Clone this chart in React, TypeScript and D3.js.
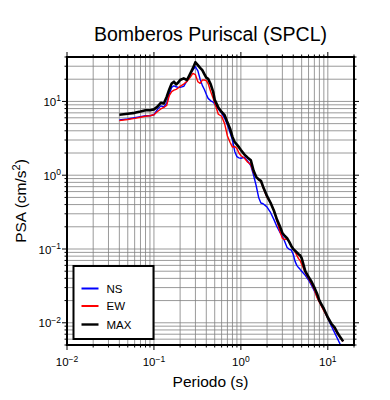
import React from 'react';
import * as d3 from 'd3';

const width = 390;
const height = 400;
const plot = { left: 67, right: 354, top: 57, bottom: 345 };

// period (s) shared by the three spectra
const periods = [
  0.04, 0.05, 0.06, 0.07, 0.08, 0.09, 0.1, 0.11, 0.12, 0.13, 0.14, 0.15, 0.16, 0.17, 0.18, 0.19,
  0.2, 0.22, 0.24, 0.26, 0.28, 0.3, 0.32, 0.34, 0.36, 0.38, 0.4, 0.42, 0.45, 0.48, 0.5, 0.55,
  0.6, 0.65, 0.7, 0.75, 0.8, 0.85, 0.9, 0.95, 1.0, 1.1, 1.2, 1.3, 1.4, 1.5, 1.6, 1.7, 1.8, 1.9,
  2.0, 2.2, 2.4, 2.6, 2.8, 3.0, 3.2, 3.4, 3.6, 3.8, 4.0, 4.2, 4.4, 4.6, 4.8, 5.0, 5.5, 6.0,
  6.5, 7.0, 7.5, 8.0, 8.5, 9.0, 9.5, 10, 11, 12, 13, 14, 15,
];

const ns = [
  5.6, 5.8, 6.0, 6.2, 6.4, 6.4, 6.6, 7.8, 8.7, 8.4, 9.5, 12.5, 15.5, 16.3, 15.8, 15.5,
  15.5, 16.0, 19.0, 23.5, 26.5, 29.5, 26, 20, 16.5, 14.5, 12.5, 11.0, 10.2, 9.8, 9.2, 7.9,
  7.0, 5.9, 4.8, 3.8, 3.0, 2.1, 1.78, 1.72, 1.7, 1.75, 1.55, 1.35, 1.0, 0.72, 0.5, 0.42, 0.41, 0.39,
  0.37, 0.31, 0.25, 0.2, 0.17, 0.15, 0.125, 0.105, 0.099, 0.097, 0.085, 0.068, 0.06, 0.056, 0.053, 0.05, 0.044, 0.038,
  0.032, 0.027, 0.023, 0.0195, 0.017, 0.015, 0.0132, 0.0115, 0.009, 0.0073, 0.006, 0.005, 0.0043,
];

const ew = [
  5.5, 5.7, 5.9, 6.1, 6.3, 6.4, 6.6, 7.3, 7.9, 8.3, 8.8, 12.0, 13.6, 14.2, 14.6, 15.2,
  16.0, 17.2, 18.7, 21.0, 24.0, 23.0, 18.5, 17.6, 19.5, 19.5, 19.1, 17.5, 13.5, 11.0, 9.5, 6.7,
  6.3, 5.0, 3.4, 2.8, 2.4, 2.45, 2.3, 2.0, 1.85, 1.7, 1.5, 1.4, 1.08, 0.95, 0.87, 0.82, 0.68, 0.58,
  0.5, 0.42, 0.33, 0.24, 0.175, 0.14, 0.134, 0.138, 0.125, 0.11, 0.1, 0.092, 0.082, 0.074, 0.07, 0.062, 0.048, 0.04,
  0.034, 0.028, 0.022, 0.019, 0.0165, 0.0145, 0.013, 0.0115, 0.0097, 0.0082, 0.007, 0.0062, 0.0056,
];

const maxPsa = [
  6.6, 6.8, 7.0, 7.3, 7.6, 7.6, 7.8, 8.5, 9.6, 9.4, 11.5, 14.5, 17.5, 18.5, 17.0, 18.0,
  19.5, 20.5, 19.5, 23.5, 28, 34, 31, 28.5, 26.5, 23.5, 21.0, 20.2, 17.0, 13.5, 10.5, 8.3,
  7.2, 6.5, 5.2, 4.3, 3.3, 2.8, 2.6, 2.4, 2.2, 1.9, 1.73, 1.6, 1.15, 0.95, 0.88, 0.84, 0.7, 0.6,
  0.52, 0.42, 0.33, 0.25, 0.205, 0.165, 0.15, 0.14, 0.125, 0.11, 0.1, 0.095, 0.09, 0.085, 0.082, 0.075, 0.05, 0.042,
  0.036, 0.03, 0.025, 0.02, 0.0175, 0.0155, 0.0135, 0.0118, 0.0097, 0.0086, 0.0072, 0.0063, 0.0056,
];

const series = [
  { name: 'NS', values: ns, color: '#0000ff', width: 1.4 },
  { name: 'EW', values: ew, color: '#ff0000', width: 1.4 },
  { name: 'MAX', values: maxPsa, color: '#000000', width: 2.6 },
];

const xDomain = [0.01, 20];
const yDomain = [0.005, 40];
const title = 'Bomberos Puriscal (SPCL)';
const xLabel = 'Periodo (s)';
const font = '"Liberation Sans", Arial, Helvetica, sans-serif';

const x = d3.scaleLog().domain(xDomain).range([plot.left, plot.right]);
const y = d3.scaleLog().domain(yDomain).range([plot.bottom, plot.top]);

const isMajor = (v: number) => Math.abs(Math.log10(v) - Math.round(Math.log10(v))) < 1e-6;
const expOf = (v: number) => {
  const e = Math.round(Math.log10(v));
  return e < 0 ? `\u2212${-e}` : `${e}`;
};

export default function App() {
  const xTicks = x.ticks();
  const yTicks = y.ticks();
  const line = d3.line<number>()
    .x((d, i) => x(periods[i]))
    .y(d => y(d));

  const legend = { x: 73.5, y: 266, w: 80, h: 73 };
  const legendRows = [288.5, 306, 324.5];

  return (
    <svg width={width} height={height} style={{ position: 'absolute', left: 0, top: 0 }}
      fontFamily={font}>
      <defs>
        <clipPath id="plotClip">
          <rect x={plot.left} y={plot.top} width={plot.right - plot.left} height={plot.bottom - plot.top} />
        </clipPath>
      </defs>
      <rect x={0} y={0} width={width} height={height} fill="#fff" />

      {/* grid */}
      <g stroke="#808080" strokeWidth={0.8}>
        {xTicks.map((t, i) => (
          <line key={'gx' + i} x1={x(t)} x2={x(t)} y1={plot.top} y2={plot.bottom} />
        ))}
        {yTicks.map((t, i) => (
          <line key={'gy' + i} x1={plot.left} x2={plot.right} y1={y(t)} y2={y(t)} />
        ))}
      </g>

      {/* spectra */}
      <g clipPath="url(#plotClip)" fill="none" strokeLinejoin="round">
        {series.map(s => (
          <path key={s.name} d={line(s.values) || ''} stroke={s.color} strokeWidth={s.width} />
        ))}
      </g>

      {/* ticks on all sides */}
      <g stroke="#000" strokeWidth={1}>
        {xTicks.map((t, i) => {
          const len = isMajor(t) ? 5 : 2.5;
          return (
            <g key={'tx' + i}>
              <line x1={x(t)} x2={x(t)} y1={plot.bottom} y2={plot.bottom + len} />
              <line x1={x(t)} x2={x(t)} y1={plot.top} y2={plot.top - len} />
            </g>
          );
        })}
        {yTicks.map((t, i) => {
          const len = isMajor(t) ? 5 : 2.5;
          return (
            <g key={'ty' + i}>
              <line x1={plot.left} x2={plot.left - len} y1={y(t)} y2={y(t)} />
              <line x1={plot.right} x2={plot.right + len} y1={y(t)} y2={y(t)} />
            </g>
          );
        })}
      </g>

      <rect x={plot.left} y={plot.top} width={plot.right - plot.left} height={plot.bottom - plot.top}
        fill="none" stroke="#000" strokeWidth={2} />

      {/* tick labels */}
      {xTicks.filter(isMajor).map((t, i) => (
        <text key={'lx' + i} x={x(t)} y={366} textAnchor="middle" fontSize={11.5} fill="#000">
          10<tspan dy={-4.5} fontSize={8.5}>{expOf(t)}</tspan>
        </text>
      ))}
      {yTicks.filter(isMajor).map((t, i) => (
        <text key={'ly' + i} x={61} y={y(t) + 4.5} textAnchor="end" fontSize={11.5} fill="#000">
          10<tspan dy={-4.5} fontSize={8.5}>{expOf(t)}</tspan>
        </text>
      ))}

      {/* titles */}
      <text x={(plot.left + plot.right) / 2} y={41} textAnchor="middle" fontSize={19.5}>{title}</text>
      <text x={(plot.left + plot.right) / 2} y={387} textAnchor="middle" fontSize={15.5}>{xLabel}</text>
      <text transform={`translate(26, ${(plot.top + plot.bottom) / 2}) rotate(-90)`} textAnchor="middle"
        fontSize={15.5}>
        PSA (cm/s<tspan dy={-6} fontSize={11}>2</tspan><tspan dy={6}>)</tspan>
      </text>

      {/* legend */}
      <rect x={legend.x} y={legend.y} width={legend.w} height={legend.h} fill="#fff" stroke="#000" strokeWidth={2} />
      {series.map((s, i) => (
        <g key={'lg' + s.name}>
          <line x1={81.5} x2={98.5} y1={legendRows[i]} y2={legendRows[i]} stroke={s.color}
            strokeWidth={s.name === 'MAX' ? 2.4 : 2} />
          <text x={106.5} y={legendRows[i] + 4} fontSize={11.5}>{s.name}</text>
        </g>
      ))}
    </svg>
  );
}
